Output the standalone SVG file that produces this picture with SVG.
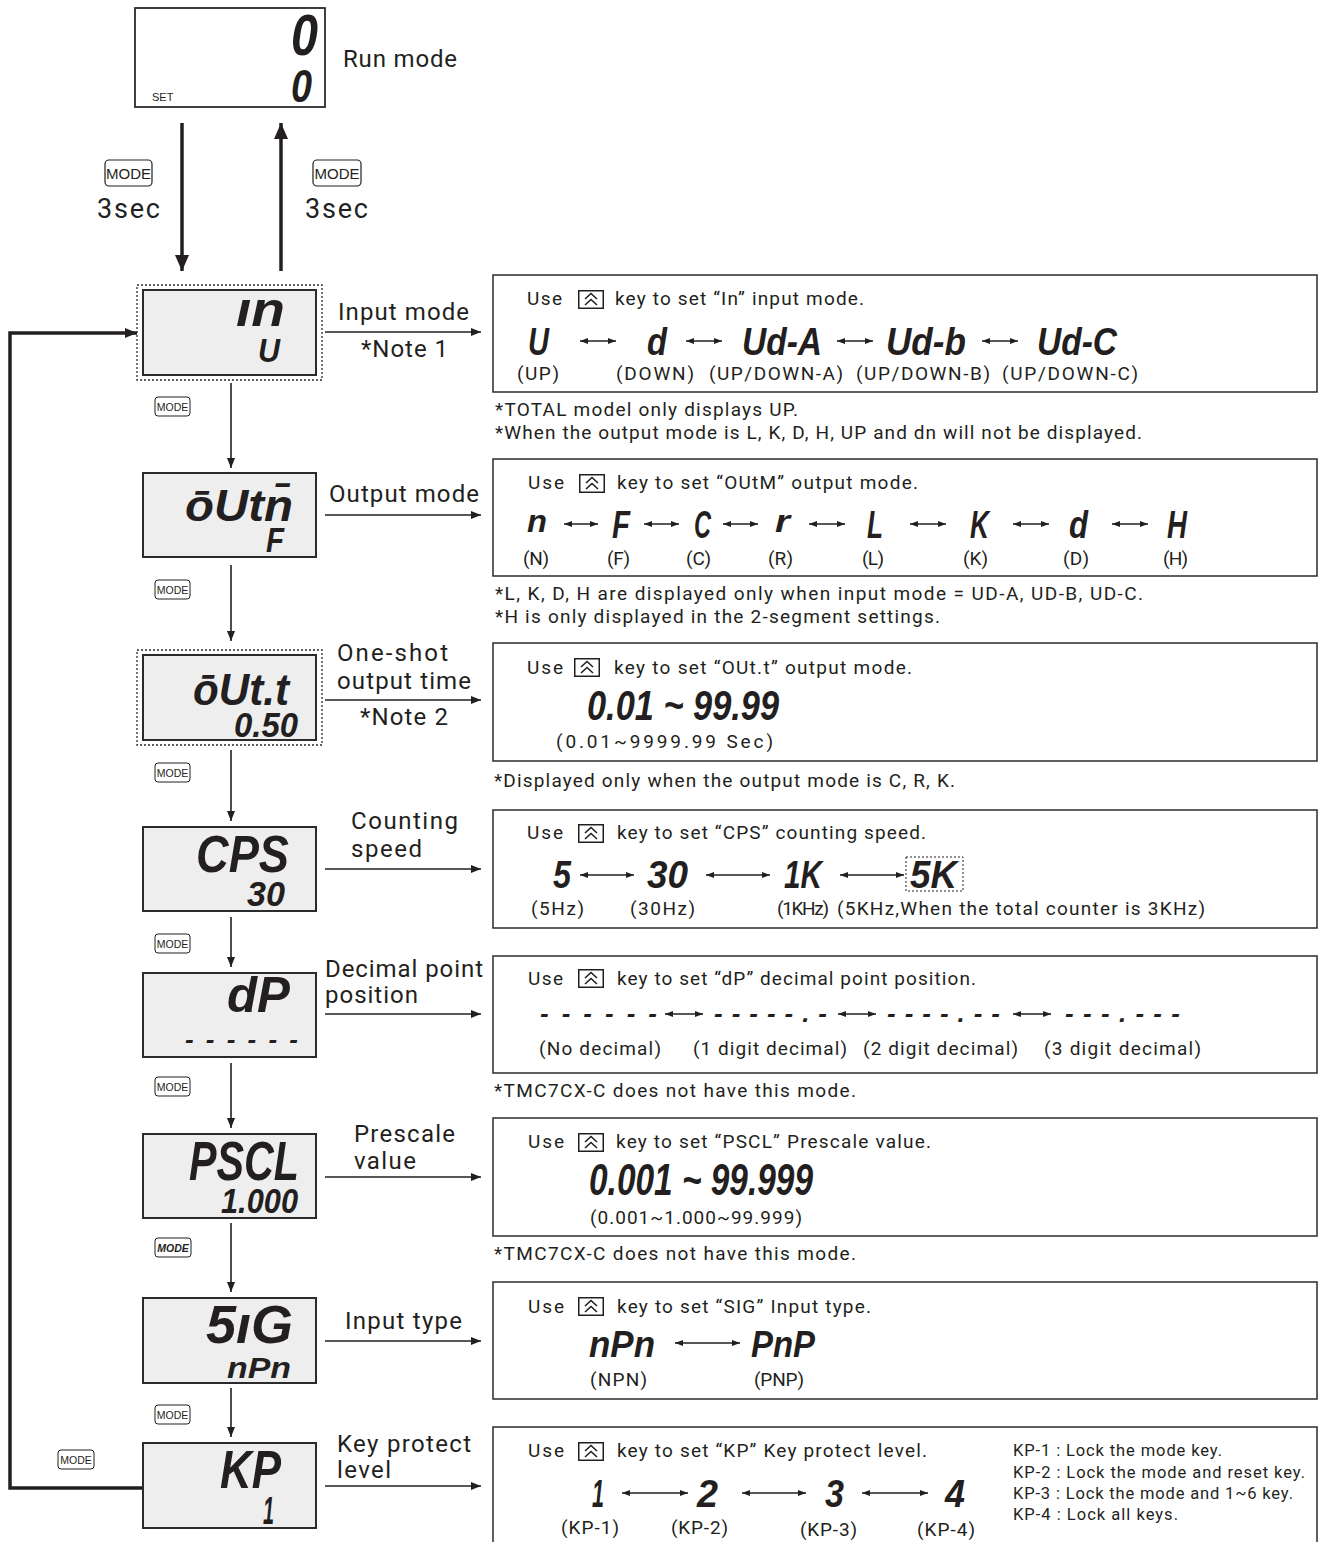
<svg xmlns="http://www.w3.org/2000/svg" xmlns:xlink="http://www.w3.org/1999/xlink" width="1322" height="1542" viewBox="0 0 1322 1542">
<style>
.t{font-family:Roboto,"Liberation Sans",sans-serif;fill:#231f20}
.b{font-size:24px}
.m{font-size:19px}
.s{font-size:16.5px}
.seg{font-family:"Liberation Sans",Arial,sans-serif;font-weight:bold;font-style:italic;fill:#231f20}
.node{fill:#eeeeee;stroke:#2b2b2b;stroke-width:2}
.dot{fill:none;stroke:#2b2b2b;stroke-width:1.3;stroke-dasharray:2 2}
.panel{fill:#ffffff;stroke:#2b2b2b;stroke-width:1.5}
.ln{stroke:#231f20;stroke-width:1.6;fill:none}
.dbl{stroke:#231f20;stroke-width:1.3;fill:none}
.thick{stroke:#231f20;stroke-width:3.5;fill:none}
.kbig{fill:#fff;stroke:#231f20;stroke-width:1.2}
.ksm{fill:#fff;stroke:#231f20;stroke-width:1}
.ktxt{font-family:"Liberation Sans Narrow","Liberation Sans",Arial,sans-serif;fill:#231f20}
</style>
<defs>
<marker id="a" markerUnits="userSpaceOnUse" markerWidth="10" markerHeight="8" refX="10" refY="4" orient="auto"><path d="M0,0 L10,4 L0,8 z" fill="#231f20"/></marker>
<marker id="ad" markerUnits="userSpaceOnUse" markerWidth="8" markerHeight="6" refX="8" refY="3" orient="auto-start-reverse"><path d="M0,0 L8,3 L0,6 z" fill="#231f20"/></marker>
<marker id="ab" markerUnits="userSpaceOnUse" markerWidth="16" markerHeight="14" refX="16" refY="7" orient="auto"><path d="M0,0 L16,7 L0,14 z" fill="#231f20"/></marker>
<marker id="am" markerUnits="userSpaceOnUse" markerWidth="12" markerHeight="10" refX="12" refY="5" orient="auto"><path d="M0,0 L12,5 L0,10 z" fill="#231f20"/></marker>
<symbol id="up" viewBox="0 0 26 19" overflow="visible">
<rect x="0.75" y="0.75" width="24.5" height="17.5" fill="#fff" stroke="#231f20" stroke-width="1.5"/>
<polyline points="7,9 13,3.5 19,9" fill="none" stroke="#231f20" stroke-width="1.6"/>
<polyline points="7,15 13,9.5 19,15" fill="none" stroke="#231f20" stroke-width="1.6"/>
</symbol>
</defs>
<rect width="1322" height="1542" fill="#ffffff"/>

<!-- connectors -->
<g id="connectors">
<line class="thick" x1="182" y1="123" x2="182" y2="271" marker-end="url(#ab)" stroke-width="4"/>
<line class="thick" x1="281" y1="271" x2="281" y2="123" marker-end="url(#ab)" stroke-width="4"/>
<polyline class="thick" points="143,1488 10,1488 10,333 137,333" marker-end="url(#am)"/>
<line class="ln" x1="231" y1="383" x2="231" y2="468" marker-end="url(#a)"/>
<line class="ln" x1="231" y1="565" x2="231" y2="641" marker-end="url(#a)"/>
<line class="ln" x1="231" y1="750" x2="231" y2="821" marker-end="url(#a)"/>
<line class="ln" x1="231" y1="917" x2="231" y2="967" marker-end="url(#a)"/>
<line class="ln" x1="231" y1="1063" x2="231" y2="1128" marker-end="url(#a)"/>
<line class="ln" x1="231" y1="1223" x2="231" y2="1292" marker-end="url(#a)"/>
<line class="ln" x1="231" y1="1388" x2="231" y2="1437" marker-end="url(#a)"/>
<line class="ln" x1="325" y1="332" x2="481" y2="332" marker-end="url(#a)"/>
<line class="ln" x1="325" y1="515" x2="481" y2="515" marker-end="url(#a)"/>
<line class="ln" x1="325" y1="700" x2="481" y2="700" marker-end="url(#a)"/>
<line class="ln" x1="325" y1="869" x2="481" y2="869" marker-end="url(#a)"/>
<line class="ln" x1="325" y1="1014" x2="481" y2="1014" marker-end="url(#a)"/>
<line class="ln" x1="325" y1="1177" x2="481" y2="1177" marker-end="url(#a)"/>
<line class="ln" x1="325" y1="1341" x2="481" y2="1341" marker-end="url(#a)"/>
<line class="ln" x1="325" y1="1486" x2="481" y2="1486" marker-end="url(#a)"/>
</g>

<!-- MODE keys -->
<g id="mode-keys">
<rect class="kbig" x="105" y="160" width="47" height="26" rx="4"/>
<text class="ktxt" x="128.5" y="179" font-size="15" text-anchor="middle">MODE</text>
<text class="t" x="97" y="218" font-size="27" textLength="63">3sec</text>
<rect class="kbig" x="313" y="160" width="48" height="26" rx="4"/>
<text class="ktxt" x="337" y="179" font-size="15" text-anchor="middle">MODE</text>
<text class="t" x="305" y="218" font-size="27" textLength="63">3sec</text>
<rect class="ksm" x="155" y="397" width="35" height="19" rx="3"/><text class="ktxt" x="172.5" y="410.5" font-size="10.5" text-anchor="middle">MODE</text>
<rect class="ksm" x="155" y="580" width="35" height="19" rx="3"/><text class="ktxt" x="172.5" y="593.5" font-size="10.5" text-anchor="middle">MODE</text>
<rect class="ksm" x="155" y="763" width="35" height="19" rx="3"/><text class="ktxt" x="172.5" y="776.5" font-size="10.5" text-anchor="middle">MODE</text>
<rect class="ksm" x="155" y="934" width="35" height="19" rx="3"/><text class="ktxt" x="172.5" y="947.5" font-size="10.5" text-anchor="middle">MODE</text>
<rect class="ksm" x="155" y="1077" width="35" height="19" rx="3"/><text class="ktxt" x="172.5" y="1090.5" font-size="10.5" text-anchor="middle">MODE</text>
<rect class="ksm" x="155" y="1238" width="36" height="19" rx="3" stroke-width="2"/><text class="ktxt" x="173" y="1251.5" font-size="10.5" font-weight="bold" font-style="italic" text-anchor="middle">MODE</text>
<rect class="ksm" x="155" y="1405" width="35" height="19" rx="3"/><text class="ktxt" x="172.5" y="1418.5" font-size="10.5" text-anchor="middle">MODE</text>
<rect class="ksm" x="58" y="1450" width="36" height="19" rx="3"/><text class="ktxt" x="76" y="1463.5" font-size="10.5" text-anchor="middle">MODE</text>
</g>

<!-- Run mode -->
<g id="run">
<rect x="135" y="8" width="190" height="99" fill="#fff" stroke="#2b2b2b" stroke-width="1.8"/>
<text class="seg"><tspan x="291" y="55" font-size="58" textLength="27" lengthAdjust="spacingAndGlyphs">0</tspan><tspan x="291" y="102" font-size="47" textLength="21" lengthAdjust="spacingAndGlyphs">0</tspan></text>
<text class="ktxt" x="152" y="101" font-size="11">SET</text>
<text class="t b" x="343" y="67" textLength="114">Run mode</text>
</g>

<!-- Input mode node -->
<g id="node-in">
<rect class="dot" x="137" y="285" width="185" height="95"/>
<rect class="node" x="143" y="290" width="173" height="85"/>
<text class="seg"><tspan x="236" y="326" font-size="48" textLength="49" lengthAdjust="spacingAndGlyphs">ın</tspan><tspan x="258" y="362" font-size="34" textLength="22" lengthAdjust="spacingAndGlyphs">U</tspan></text>
<text class="t b" x="338" y="320" textLength="131">Input mode</text>
<text class="t b" x="361" y="357" font-size="22" textLength="87">*Note 1</text>
</g>

<g id="panel-in">
<rect class="panel" x="493" y="275" width="824" height="117"/>
<text class="t m" x="527" y="305" textLength="35">Use</text>
<use xlink:href="#up" x="578" y="290" width="26" height="19"/>
<text class="t m" x="615" y="305" textLength="249">key to set “In” input mode.</text>
<text class="seg" x="528" y="355" font-size="39" textLength="21" lengthAdjust="spacingAndGlyphs">U</text>
<text class="seg" x="647" y="355" font-size="39" textLength="20" lengthAdjust="spacingAndGlyphs">d</text>
<text class="seg" x="742" y="355" font-size="39" textLength="80" lengthAdjust="spacingAndGlyphs">Ud-A</text>
<text class="seg" x="886" y="355" font-size="39" textLength="80" lengthAdjust="spacingAndGlyphs">Ud-b</text>
<text class="seg" x="1037" y="355" font-size="39" textLength="80" lengthAdjust="spacingAndGlyphs">Ud-C</text>
<line class="dbl" x1="580" y1="341" x2="616" y2="341" marker-start="url(#ad)" marker-end="url(#ad)"/>
<line class="dbl" x1="686" y1="341" x2="722" y2="341" marker-start="url(#ad)" marker-end="url(#ad)"/>
<line class="dbl" x1="837" y1="341" x2="873" y2="341" marker-start="url(#ad)" marker-end="url(#ad)"/>
<line class="dbl" x1="982" y1="341" x2="1018" y2="341" marker-start="url(#ad)" marker-end="url(#ad)"/>
<text class="t m" x="517" y="380" textLength="42">(UP)</text>
<text class="t m" x="616" y="380" textLength="78">(DOWN)</text>
<text class="t m" x="709" y="380" textLength="134">(UP/DOWN-A)</text>
<text class="t m" x="856" y="380" textLength="134">(UP/DOWN-B)</text>
<text class="t m" x="1002" y="380" textLength="136">(UP/DOWN-C)</text>
<text class="t m" x="495" y="416" textLength="303">*TOTAL model only displays UP.</text>
<text class="t m" x="495" y="439" textLength="647">*When the output mode is L, K, D, H, UP and dn will not be displayed.</text>
</g>

<!-- Output mode -->
<g id="node-out">
<rect class="node" x="143" y="473" width="173" height="84"/>
<text class="seg"><tspan x="185" y="521" font-size="44" textLength="108" lengthAdjust="spacingAndGlyphs">ōUtn̄</tspan><tspan x="266" y="552" font-size="35" textLength="18" lengthAdjust="spacingAndGlyphs">F</tspan></text>
<text class="t b" x="329" y="502" textLength="150">Output mode</text>
</g>

<g id="panel-out">
<rect class="panel" x="493" y="459" width="824" height="117"/>
<text class="t m" x="528" y="489" textLength="36">Use</text>
<use xlink:href="#up" x="579" y="474" width="26" height="19"/>
<text class="t m" x="617" y="489" textLength="301">key to set “OUtM” output mode.</text>
<text class="seg" x="527" y="532" font-size="32" textLength="20" lengthAdjust="spacingAndGlyphs">n</text>
<text class="seg" x="612" y="538" font-size="39" textLength="18" lengthAdjust="spacingAndGlyphs">F</text>
<text class="seg" x="694" y="538" font-size="39" textLength="17" lengthAdjust="spacingAndGlyphs">C</text>
<text class="seg" x="775" y="532" font-size="32" textLength="15" lengthAdjust="spacingAndGlyphs">r</text>
<text class="seg" x="867" y="538" font-size="39" textLength="16" lengthAdjust="spacingAndGlyphs">L</text>
<text class="seg" x="970" y="538" font-size="39" textLength="19" lengthAdjust="spacingAndGlyphs">K</text>
<text class="seg" x="1069" y="538" font-size="39" textLength="19" lengthAdjust="spacingAndGlyphs">d</text>
<text class="seg" x="1167" y="538" font-size="39" textLength="20" lengthAdjust="spacingAndGlyphs">H</text>
<line class="dbl" x1="564" y1="524" x2="598" y2="524" marker-start="url(#ad)" marker-end="url(#ad)"/>
<line class="dbl" x1="644" y1="524" x2="679" y2="524" marker-start="url(#ad)" marker-end="url(#ad)"/>
<line class="dbl" x1="723" y1="524" x2="758" y2="524" marker-start="url(#ad)" marker-end="url(#ad)"/>
<line class="dbl" x1="809" y1="524" x2="845" y2="524" marker-start="url(#ad)" marker-end="url(#ad)"/>
<line class="dbl" x1="910" y1="524" x2="946" y2="524" marker-start="url(#ad)" marker-end="url(#ad)"/>
<line class="dbl" x1="1013" y1="524" x2="1049" y2="524" marker-start="url(#ad)" marker-end="url(#ad)"/>
<line class="dbl" x1="1112" y1="524" x2="1148" y2="524" marker-start="url(#ad)" marker-end="url(#ad)"/>
<text class="t m" x="523" y="565" textLength="26">(N)</text>
<text class="t m" x="607" y="565" textLength="23">(F)</text>
<text class="t m" x="686" y="565" textLength="25">(C)</text>
<text class="t m" x="768" y="565" textLength="25">(R)</text>
<text class="t m" x="862" y="565" textLength="22">(L)</text>
<text class="t m" x="963" y="565" textLength="25">(K)</text>
<text class="t m" x="1063" y="565" textLength="26">(D)</text>
<text class="t m" x="1163" y="565" textLength="25">(H)</text>
<text class="t m" x="495" y="600" textLength="648">*L, K, D, H are displayed only when input mode = UD-A, UD-B, UD-C.</text>
<text class="t m" x="495" y="623" textLength="445">*H is only displayed in the 2-segment settings.</text>
</g>

<!-- One-shot -->
<g id="node-oneshot">
<rect class="dot" x="137" y="650" width="185" height="95"/>
<rect class="node" x="143" y="655" width="173" height="85"/>
<text class="seg"><tspan x="193" y="705" font-size="44" textLength="96" lengthAdjust="spacingAndGlyphs">ōUt.t</tspan><tspan x="234" y="737" font-size="35" textLength="64" lengthAdjust="spacingAndGlyphs">0.50</tspan></text>
<text class="t b" x="337" y="661" textLength="111">One-shot</text>
<text class="t b" x="337" y="689" textLength="134">output time</text>
<text class="t b" x="360" y="725" font-size="22" textLength="88">*Note 2</text>
</g>

<g id="panel-oneshot">
<rect class="panel" x="493" y="643" width="824" height="118"/>
<text class="t m" x="527" y="674" textLength="36">Use</text>
<use xlink:href="#up" x="574" y="658" width="26" height="19"/>
<text class="t m" x="614" y="674" textLength="298">key to set “OUt.t” output mode.</text>
<text class="seg" x="587" y="720" font-size="42" textLength="192" lengthAdjust="spacingAndGlyphs">0.01 ~ 99.99</text>
<text class="t m" x="556" y="748" textLength="217">(0.01~9999.99 Sec)</text>
<text class="t m" x="494" y="787" textLength="461">*Displayed only when the output mode is C, R, K.</text>
</g>

<!-- CPS -->
<g id="node-cps">
<rect class="node" x="143" y="827" width="173" height="84"/>
<text class="seg"><tspan x="196" y="872" font-size="52" textLength="93" lengthAdjust="spacingAndGlyphs">CPS</tspan><tspan x="247" y="906" font-size="35" textLength="38" lengthAdjust="spacingAndGlyphs">30</tspan></text>
<text class="t b" x="351" y="829" textLength="107">Counting</text>
<text class="t b" x="351" y="857" textLength="71">speed</text>
</g>

<g id="panel-cps">
<rect class="panel" x="493" y="810" width="824" height="118"/>
<text class="t m" x="527" y="839" textLength="36">Use</text>
<use xlink:href="#up" x="578" y="824" width="26" height="19"/>
<text class="t m" x="617" y="839" textLength="309">key to set “CPS” counting speed.</text>
<text class="seg" x="553" y="888" font-size="39" textLength="18" lengthAdjust="spacingAndGlyphs">5</text>
<text class="seg" x="647" y="888" font-size="39" textLength="41" lengthAdjust="spacingAndGlyphs">30</text>
<text class="seg" x="784" y="888" font-size="39" textLength="38" lengthAdjust="spacingAndGlyphs">1K</text>
<rect x="906" y="857" width="57" height="34" fill="none" stroke="#231f20" stroke-width="1" stroke-dasharray="2 2"/>
<text class="seg" x="910" y="888" font-size="39" textLength="47" lengthAdjust="spacingAndGlyphs">5K</text>
<line class="dbl" x1="580" y1="875" x2="634" y2="875" marker-start="url(#ad)" marker-end="url(#ad)"/>
<line class="dbl" x1="706" y1="875" x2="770" y2="875" marker-start="url(#ad)" marker-end="url(#ad)"/>
<line class="dbl" x1="840" y1="875" x2="904" y2="875" marker-start="url(#ad)" marker-end="url(#ad)"/>
<text class="t m" x="531" y="915" textLength="53">(5Hz)</text>
<text class="t m" x="630" y="915" textLength="65">(30Hz)</text>
<text class="t m" x="777" y="915" textLength="52">(1KHz)</text>
<text class="t m" x="837" y="915" textLength="368">(5KHz,When the total counter is 3KHz)</text>
</g>

<!-- dP -->
<g id="node-dp">
<rect class="node" x="143" y="973" width="173" height="84"/>
<text class="seg"><tspan x="227" y="1012" font-size="50" textLength="63" lengthAdjust="spacingAndGlyphs">dP</tspan><tspan x="185" y="1048" font-size="26" textLength="113" lengthAdjust="spacing">------</tspan></text>
<text class="t b" x="325" y="977" textLength="158">Decimal point</text>
<text class="t b" x="325" y="1003" textLength="93">position</text>
</g>

<g id="panel-dp">
<rect class="panel" x="493" y="956" width="824" height="117"/>
<text class="t m" x="528" y="985" textLength="35">Use</text>
<use xlink:href="#up" x="578" y="969" width="26" height="19"/>
<text class="t m" x="617" y="985" textLength="359">key to set “dP” decimal point position.</text>
<text class="seg" x="540" y="1022" font-size="26" textLength="117" lengthAdjust="spacing">------</text>
<text class="seg" x="714" y="1022" font-size="26" textLength="113" lengthAdjust="spacing">-----.-</text>
<text class="seg" x="887" y="1022" font-size="26" textLength="113" lengthAdjust="spacing">----.--</text>
<text class="seg" x="1065" y="1022" font-size="26" textLength="115" lengthAdjust="spacing">---.---</text>
<line class="dbl" x1="665" y1="1014" x2="703" y2="1014" marker-start="url(#ad)" marker-end="url(#ad)"/>
<line class="dbl" x1="838" y1="1014" x2="876" y2="1014" marker-start="url(#ad)" marker-end="url(#ad)"/>
<line class="dbl" x1="1013" y1="1014" x2="1051" y2="1014" marker-start="url(#ad)" marker-end="url(#ad)"/>
<text class="t m" x="539" y="1055" textLength="122">(No decimal)</text>
<text class="t m" x="693" y="1055" textLength="154">(1 digit decimal)</text>
<text class="t m" x="863" y="1055" textLength="155">(2 digit decimal)</text>
<text class="t m" x="1044" y="1055" textLength="157">(3 digit decimal)</text>
<text class="t m" x="494" y="1097" textLength="362">*TMC7CX-C does not have this mode.</text>
</g>

<!-- PSCL -->
<g id="node-pscl">
<rect class="node" x="143" y="1134" width="173" height="84"/>
<text class="seg"><tspan x="189" y="1180" font-size="56" textLength="110" lengthAdjust="spacingAndGlyphs">PSCL</tspan><tspan x="221" y="1213" font-size="35" textLength="77" lengthAdjust="spacingAndGlyphs">1.000</tspan></text>
<text class="t b" x="354" y="1142" textLength="101">Prescale</text>
<text class="t b" x="354" y="1169" textLength="62">value</text>
</g>

<g id="panel-pscl">
<rect class="panel" x="493" y="1118" width="824" height="118"/>
<text class="t m" x="528" y="1148" textLength="36">Use</text>
<use xlink:href="#up" x="578" y="1133" width="26" height="19"/>
<text class="t m" x="616" y="1148" textLength="315">key to set “PSCL” Prescale value.</text>
<text class="seg" x="589" y="1195" font-size="45" textLength="224" lengthAdjust="spacingAndGlyphs">0.001 ~ 99.999</text>
<text class="t m" x="590" y="1224" textLength="212">(0.001~1.000~99.999)</text>
<text class="t m" x="494" y="1260" textLength="362">*TMC7CX-C does not have this mode.</text>
</g>

<!-- SIG -->
<g id="node-sig">
<rect class="node" x="143" y="1298" width="173" height="85"/>
<text class="seg"><tspan x="206" y="1343" font-size="54" textLength="87" lengthAdjust="spacingAndGlyphs">5ıG</tspan><tspan x="227" y="1378" font-size="30" textLength="64" lengthAdjust="spacingAndGlyphs">nPn</tspan></text>
<text class="t b" x="345" y="1329" textLength="117">Input type</text>
</g>

<g id="panel-sig">
<rect class="panel" x="493" y="1282" width="824" height="117"/>
<text class="t m" x="528" y="1313" textLength="36">Use</text>
<use xlink:href="#up" x="578" y="1297" width="26" height="19"/>
<text class="t m" x="617" y="1313" textLength="254">key to set “SIG” Input type.</text>
<text class="seg" x="589" y="1357" font-size="37" textLength="66" lengthAdjust="spacingAndGlyphs">nPn</text>
<text class="seg" x="751" y="1357" font-size="37" textLength="64" lengthAdjust="spacingAndGlyphs">PnP</text>
<line class="dbl" x1="675" y1="1343" x2="740" y2="1343" marker-start="url(#ad)" marker-end="url(#ad)"/>
<text class="t m" x="590" y="1386" textLength="57">(NPN)</text>
<text class="t m" x="754" y="1386" textLength="50">(PNP)</text>
</g>

<!-- KP -->
<g id="node-kp">
<rect class="node" x="143" y="1443" width="173" height="85"/>
<text class="seg"><tspan x="220" y="1488" font-size="54" textLength="61" lengthAdjust="spacingAndGlyphs">KP</tspan><tspan x="263" y="1524" font-size="39" textLength="11" lengthAdjust="spacingAndGlyphs">1</tspan></text>
<text class="t b" x="337" y="1452" textLength="134">Key protect</text>
<text class="t b" x="337" y="1478" textLength="54">level</text>
</g>

<g id="panel-kp">
<rect class="panel" x="493" y="1427" width="824" height="125"/>
<text class="t m" x="528" y="1457" textLength="36">Use</text>
<use xlink:href="#up" x="578" y="1442" width="26" height="19"/>
<text class="t m" x="617" y="1457" textLength="310">key to set “KP” Key protect level.</text>
<text class="t s" x="1013" y="1456" textLength="209">KP-1 : Lock the mode key.</text>
<text class="t s" x="1013" y="1478" textLength="292">KP-2 : Lock the mode and reset key.</text>
<text class="t s" x="1013" y="1499" textLength="280">KP-3 : Lock the mode and 1~6 key.</text>
<text class="t s" x="1013" y="1520" textLength="165">KP-4 : Lock all keys.</text>
<text class="seg" x="592" y="1507" font-size="38" textLength="12" lengthAdjust="spacingAndGlyphs">1</text>
<text class="seg" x="697" y="1507" font-size="38" textLength="21" lengthAdjust="spacingAndGlyphs">2</text>
<text class="seg" x="825" y="1507" font-size="38" textLength="19" lengthAdjust="spacingAndGlyphs">3</text>
<text class="seg" x="945" y="1507" font-size="38" textLength="20" lengthAdjust="spacingAndGlyphs">4</text>
<line class="dbl" x1="622" y1="1493" x2="688" y2="1493" marker-start="url(#ad)" marker-end="url(#ad)"/>
<line class="dbl" x1="742" y1="1493" x2="806" y2="1493" marker-start="url(#ad)" marker-end="url(#ad)"/>
<line class="dbl" x1="862" y1="1493" x2="928" y2="1493" marker-start="url(#ad)" marker-end="url(#ad)"/>
<text class="t m" x="561" y="1534" textLength="58">(KP-1)</text>
<text class="t m" x="671" y="1534" textLength="57">(KP-2)</text>
<text class="t m" x="800" y="1536" textLength="57">(KP-3)</text>
<text class="t m" x="917" y="1536" textLength="58">(KP-4)</text>
</g>
</svg>
